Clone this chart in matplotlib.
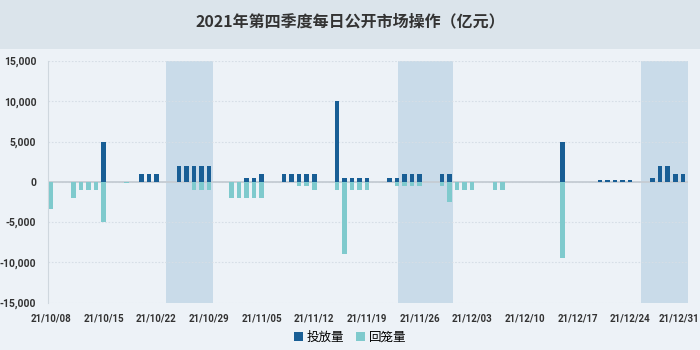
import matplotlib
matplotlib.use("Agg")
import matplotlib.pyplot as plt
import matplotlib.dates as mdates
import matplotlib.transforms as mtransforms
from matplotlib.patches import Patch, Rectangle
from matplotlib.ticker import FuncFormatter, MultipleLocator
import pandas as pd

plt.rcParams['font.family'] = ['Noto Sans CJK SC', 'DejaVu Sans']

# 每日公开市场操作（亿元），投放为正、回笼为负
dates = [
    "2021-10-08", "2021-10-11", "2021-10-12", "2021-10-13", "2021-10-14", "2021-10-15",
    "2021-10-18", "2021-10-19", "2021-10-20", "2021-10-21", "2021-10-22",
    "2021-10-25", "2021-10-26", "2021-10-27", "2021-10-28", "2021-10-29",
    "2021-11-01", "2021-11-02", "2021-11-03", "2021-11-04", "2021-11-05",
    "2021-11-08", "2021-11-09", "2021-11-10", "2021-11-11", "2021-11-12",
    "2021-11-15", "2021-11-16", "2021-11-17", "2021-11-18", "2021-11-19",
    "2021-11-22", "2021-11-23", "2021-11-24", "2021-11-25", "2021-11-26",
    "2021-11-29", "2021-11-30", "2021-12-01", "2021-12-02", "2021-12-03",
    "2021-12-06", "2021-12-07", "2021-12-08", "2021-12-09", "2021-12-10",
    "2021-12-13", "2021-12-14", "2021-12-15", "2021-12-16", "2021-12-17",
    "2021-12-20", "2021-12-21", "2021-12-22", "2021-12-23", "2021-12-24",
    "2021-12-27", "2021-12-28", "2021-12-29", "2021-12-30", "2021-12-31",
]
injection = [
    0, 0, 0, 0, 0, 5000,
    0, 0, 1000, 1000, 1000,
    2000, 2000, 2000, 2000, 2000,
    0, 0, 500, 500, 1000,
    1000, 1000, 1000, 1000, 1000,
    10000, 500, 500, 500, 500,
    500, 500, 1000, 1000, 1000,
    1000, 1000, 0, 0, 0,
    0, 0, 0, 0, 0,
    0, 0, 5000, 0, 0,
    200, 200, 200, 200, 200,
    500, 2000, 2000, 1000, 1000,
]
withdrawal = [
    -3400, -2000, -1000, -1000, -1000, -5000,
    -200, 0, 0, 0, 0,
    0, 0, -1000, -1000, -1000,
    -2000, -2000, -2000, -2000, -2000,
    0, 0, -500, -500, -1000,
    -1000, -9000, -1000, -1000, -1000,
    0, -500, -500, -500, -500,
    -500, -2500, -1000, -1000, -1000,
    -1000, -1000, 0, 0, 0,
    0, 0, -9500, 0, 0,
    0, 0, 0, 0, 0,
    0, 0, 0, 0, 0,
]

# 阴影区间（跨月时段）
shade_spans = [
    ("2021-10-23 08:00", "2021-10-29 14:00"),
    ("2021-11-23 02:00", "2021-11-30 10:00"),
    ("2021-12-25 10:00", "2022-01-01 00:00"),
]

tick_dates = pd.date_range("2021-10-08", "2021-12-31", freq="7D")

c_in = "#185e95"
c_out = "#7fcacd"
bg_body = "#edf2f7"
bg_title = "#dbe4eb"
tick_font = ["Roboto", "DejaVu Sans"]

fig = plt.figure(figsize=(7, 3.5), dpi=100, facecolor=bg_body)
fig.patches.append(Rectangle((0, 0.86), 1, 0.14, transform=fig.transFigure,
                             facecolor=bg_title, edgecolor="none", zorder=0))
fig.text(0.5, 0.94, "2021年第四季度每日公开市场操作（亿元）", ha="center", va="center",
         fontsize=11.5, fontweight="bold", color="#333333")

ax = fig.add_axes([0.068, 0.135, 0.915, 0.691])
ax.set_facecolor(bg_body)

x = pd.to_datetime(dates)
for a, b in shade_spans:
    ax.axvspan(pd.Timestamp(a), pd.Timestamp(b), color="#c9dbe9", zorder=0, lw=0)

ax.bar(x, injection, width=0.6, color=c_in, zorder=3)
ax.bar(x, withdrawal, width=0.6, color=c_out, zorder=3)

ax.axhline(0, color="#c5ccd3", lw=1.3, zorder=2)

ax.set_ylim(-15000, 15000)
ax.yaxis.set_major_locator(MultipleLocator(5000))
ax.yaxis.set_major_formatter(FuncFormatter(lambda v, p: f"{int(v):,}"))
ax.grid(axis="y", color="#d6dee6", linestyle=(0, (1.5, 1.5)), lw=0.8, zorder=1)

ax.set_xlim(pd.Timestamp("2021-10-07 13:00"), pd.Timestamp("2021-12-31 17:00"))
ax.set_xticks(tick_dates)
ax.xaxis.set_major_formatter(mdates.DateFormatter("%y/%m/%d"))

for s in ["top", "right", "bottom"]:
    ax.spines[s].set_visible(False)
ax.spines["left"].set_color("#cfd7de")
ax.tick_params(axis="both", length=0, colors="#333333")
ax.tick_params(axis="y", pad=8)
ax.tick_params(axis="x", pad=8)
for lab in ax.get_yticklabels():
    lab.set_fontweight("bold")
    lab.set_family(tick_font)
    lab.set_fontsize(7.5)
for lab in ax.get_xticklabels():
    lab.set_fontweight("bold")
    lab.set_family(tick_font)
    lab.set_fontsize(7)

# 最后一个日期标签略向左收，避免贴边被裁
last = ax.xaxis.get_major_ticks()[-1].label1
last.set_transform(last.get_transform() +
                   mtransforms.ScaledTranslation(-3 / 72, 0, fig.dpi_scale_trans))

handles = [Patch(facecolor=c_in, label="投放量"), Patch(facecolor=c_out, label="回笼量")]
fig.legend(handles=handles, loc="center", bbox_to_anchor=(0.5, 0.037), ncol=2,
           frameon=False, fontsize=9, handlelength=0.7, handleheight=0.7,
           handletextpad=0.3, columnspacing=1.0)

fig.savefig("out.png", dpi=100, facecolor=fig.get_facecolor())
